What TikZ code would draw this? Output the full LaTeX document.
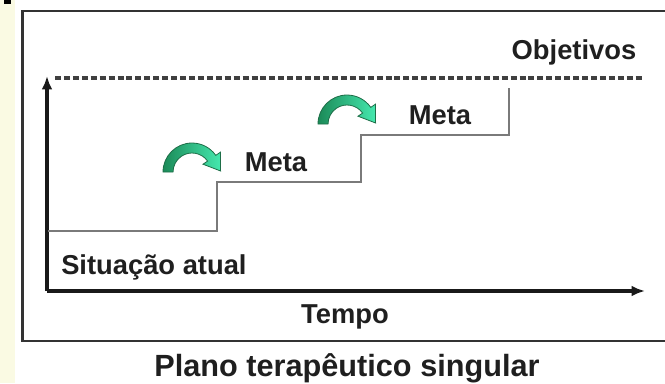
\documentclass[tikz,border=0pt]{standalone}
\usepackage{fontspec}
\setmainfont{Liberation Sans}
\usetikzlibrary{arrows.meta}
\definecolor{cream}{HTML}{FAFAE3}
\definecolor{boxline}{HTML}{333333}
\definecolor{stepgray}{HTML}{7A7A7A}
\definecolor{gdark}{HTML}{1B8A58}
\definecolor{glight}{HTML}{45E8AE}
\definecolor{goutline}{HTML}{1E6E48}
\tikzset{
  lbl/.style={font=\fontsize{20.5}{22}\selectfont\bfseries, text=black!88, inner sep=0pt},
  axis/.style={line width=2.7pt, black!90, -{Latex[length=10pt,width=8pt]}},
  goal/.style={line width=2.6pt, black!75, dash pattern=on 4.5pt off 2.2pt},
  stair/.style={line width=1.6pt, stepgray},
  curvarrow/.style={draw=goutline, line width=0.6pt, left color=gdark, right color=glight},
}
\newcommand{\greenarrow}{%
  \path[curvarrow] (-29,0) arc[start angle=180, end angle=35, radius=29]
    -- (28.4,19.8) -- (28.6,1.0) -- (11.0,7.8) -- (15.6,10.9)
    arc[start angle=35, end angle=180, radius=19] -- cycle;}
\begin{document}
\begin{tikzpicture}[x=0.75pt,y=-0.75pt]
\useasboundingbox (0,0) rectangle (665,383);
\fill[white] (0,0) rectangle (665,383);
\fill[cream] (0,0) rectangle (15,383);
\fill[black] (4,0) rectangle (11,3.5);
% frame
\draw[line width=2pt, boxline] (700,11) -- (22.5,11) -- (22.5,341) -- (700,341);
% axes
\coordinate (O) at (47,291);
\coordinate (ytop) at (47,76);
\coordinate (xend) at (645,291);
\draw[axis] (O) -- (ytop);
\draw[axis] (O) -- (xend);
% goal line
\coordinate (gl) at (55,78);
\coordinate (gr) at (643,78);
\draw[goal] (gl) -- (gr);
% stairs
\coordinate (s0) at (48,231);
\coordinate (s1) at (217,231);
\coordinate (s2) at (217,182);
\coordinate (s3) at (361,182);
\coordinate (s4) at (361,135);
\coordinate (s5) at (509,135);
\coordinate (s6) at (509,88);
\draw[stair] (s0) -- (s1) -- (s2) -- (s3) -- (s4) -- (s5) -- (s6);
% green arrows
\begin{scope}[shift={(192,172)}, yscale=-1]\greenarrow\end{scope}
\begin{scope}[shift={(347,124)}, yscale=-1]\greenarrow\end{scope}
% labels
\node[lbl] (obj) at (574,52) {Objetivos};
\node[lbl] (meta1) at (276,162) {Meta};
\node[lbl] (meta2) at (440,115) {Meta};
\node[lbl, anchor=west] (sit) at (61,267) {Situação atual};
\node[lbl] (tempo) at (345,317) {Tempo};
\node[font=\fontsize{23}{25}\selectfont\bfseries, text=black!88, inner sep=0pt] (cap) at (347,368) {Plano terapêutico singular};
\end{tikzpicture}
\end{document}
